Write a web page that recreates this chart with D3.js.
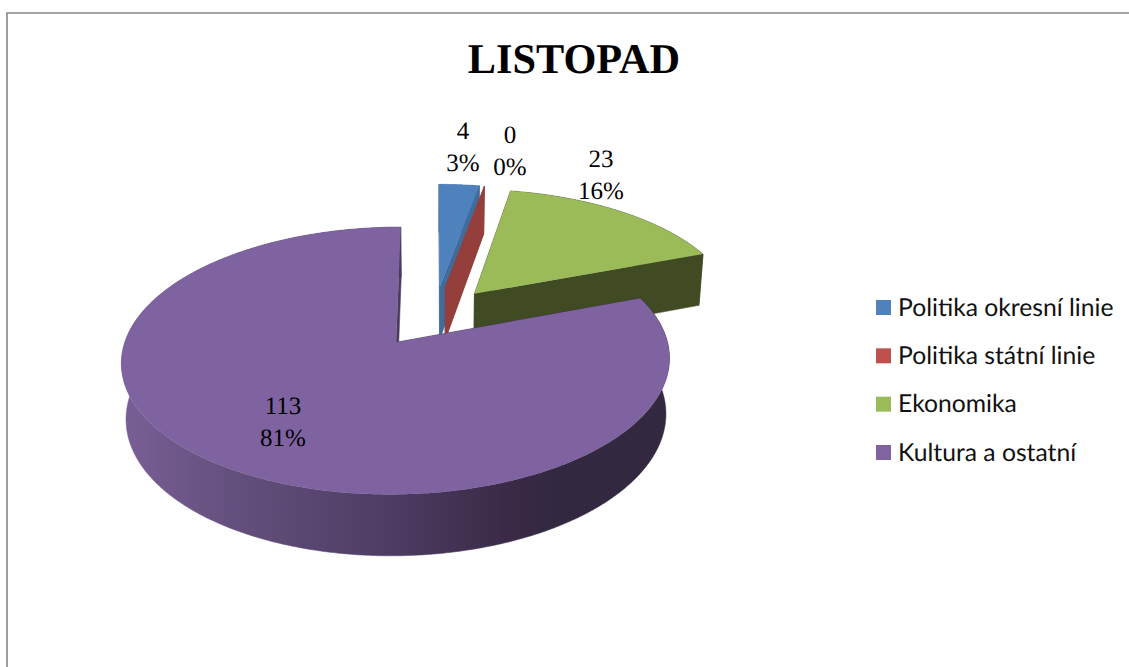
<!DOCTYPE html>
<html lang="cs">
<head>
    <meta charset="UTF-8">
    <title>LISTOPAD</title>
    <script src="https://cdnjs.cloudflare.com/ajax/libs/d3/7.8.5/d3.min.js"></script>
    <style>
        html, body { margin: 0; padding: 0; background: #fff; overflow: hidden; }
        text { text-rendering: geometricPrecision; }
    </style>
</head>
<body>
<script>
    // Data
    const categories = ["Politika okresní linie", "Politika státní linie", "Ekonomika", "Kultura a ostatní"];
    const values = [4, 0, 23, 113];
    const percents = ["3%", "0%", "16%", "81%"];
    const topColors = ["#4f81bd", "#c0504d", "#9bbb59", "#7f62a0"];
    const wallColors = ["#3f6b9d", "#953f3d", "#414b23", "url(#purpleWall)"];
    const legendColors = ["#4f81bd", "#c0504d", "#9bbb59", "#8064a2"];

    // Layout
    const width = 1129, height = 667;
    const labelX = [463, 510, 601, 283];
    const labelY = [131, 135, 159, 406];
    const cx = 434, cy = 316.5;       // Mitte des Kuchens
    const scale = 264, tilt = 0.47, persp = 0.135;
    const explode = 0.245;
    const depth = 54, depthPersp = 0.1, floorShrink = 0.985;

    const svg = d3.select("body").append("svg")
        .attr("width", width)
        .attr("height", height)
        .style("display", "block");

    // Verlauf der vorderen Wand
    const grad = svg.append("defs").append("linearGradient")
        .attr("id", "purpleWall")
        .attr("gradientUnits", "userSpaceOnUse")
        .attr("x1", 120).attr("x2", 669).attr("y1", 0).attr("y2", 0);
    [[0, "#7a5f96"], [0.2, "#64507e"], [0.5, "#4c3c62"], [0.7, "#3b2a47"], [0.8, "#322840"], [1, "#322840"]]
        .forEach(s => grad.append("stop").attr("offset", s[0]).attr("stop-color", s[1]));

    // Rahmen
    svg.append("path")
        .attr("d", "M7,667V13H1129")
        .attr("fill", "none")
        .attr("stroke", "#868686")
        .attr("stroke-width", 1.6);

    // Projektion der Kuchenebene auf den Bildschirm
    function top3d(X, Z) {
        const w = 1 - persp * Z;
        return [cx + scale * X / w, cy + scale * tilt * Z / w];
    }
    function floor3d(X, Z) {
        const w = 1 - persp * Z;
        return [cx + floorShrink * scale * X / w, cy + scale * tilt * Z / w + depth / (1 - depthPersp * Z)];
    }

    const pie = d3.pie().sort(null)(values);
    const line = d3.line();

    pie.forEach((d, i) => {
        const mid = (d.startAngle + d.endAngle) / 2;
        const ox = explode * Math.sin(mid), oz = -explode * Math.cos(mid);
        const rim = a => [ox + Math.sin(a), oz - Math.cos(a)];
        const angles = d3.range(d.startAngle, d.endAngle, 0.01).concat([d.endAngle]);
        const g = svg.append("g");

        const wall = pts => g.append("path")
            .attr("d", line(pts) + "Z")
            .attr("fill", wallColors[i])
            .attr("stroke", wallColors[i])
            .attr("stroke-width", 0.5);

        const sA = rim(d.startAngle), eA = rim(d.endAngle);
        wall([top3d(ox, oz), top3d(sA[0], sA[1]), floor3d(sA[0], sA[1]), floor3d(ox, oz)]);
        wall([top3d(ox, oz), top3d(eA[0], eA[1]), floor3d(eA[0], eA[1]), floor3d(ox, oz)]);

        const rimPts = angles.map(a => rim(a));
        wall(rimPts.map(p => top3d(p[0], p[1])).concat(rimPts.slice().reverse().map(p => floor3d(p[0], p[1]))));

        if (d.value > 0) {
            g.append("path")
                .attr("d", line([top3d(ox, oz)].concat(rimPts.map(p => top3d(p[0], p[1])))) + "Z")
                .attr("fill", topColors[i]);
        }
    });

    // Beschriftung der Stuecke
    values.forEach((v, i) => {
        const t = svg.append("text")
            .attr("font-family", "'Liberation Serif', serif")
            .attr("font-size", 25)
            .attr("fill", "#000")
            .attr("text-anchor", "middle");
        t.append("tspan").attr("x", labelX[i]).attr("y", labelY[i] + 8).text(v);
        t.append("tspan").attr("x", labelX[i]).attr("y", labelY[i] + 40).text(percents[i]);
    });

    // Titel
    svg.append("text")
        .attr("x", 574)
        .attr("y", 73)
        .attr("text-anchor", "middle")
        .attr("font-family", "'Liberation Serif', serif")
        .attr("font-weight", "bold")
        .attr("font-size", 42.3)
        .text("LISTOPAD");

    // Legende
    const legendY = d3.scalePoint().domain(categories).range([300, 445]);
    const legend = svg.append("g").selectAll("g")
        .data(categories)
        .enter().append("g")
        .attr("transform", d => "translate(876," + legendY(d) + ")");
    legend.append("rect")
        .attr("width", 15)
        .attr("height", 15)
        .attr("fill", (d, i) => legendColors[i]);
    legend.append("text")
        .attr("x", 22)
        .attr("y", 15.5)
        .attr("font-family", "Lato, sans-serif")
        .attr("font-size", 24.7)
        .attr("fill", "#111")
        .text(d => d);
</script>
</body>
</html>
